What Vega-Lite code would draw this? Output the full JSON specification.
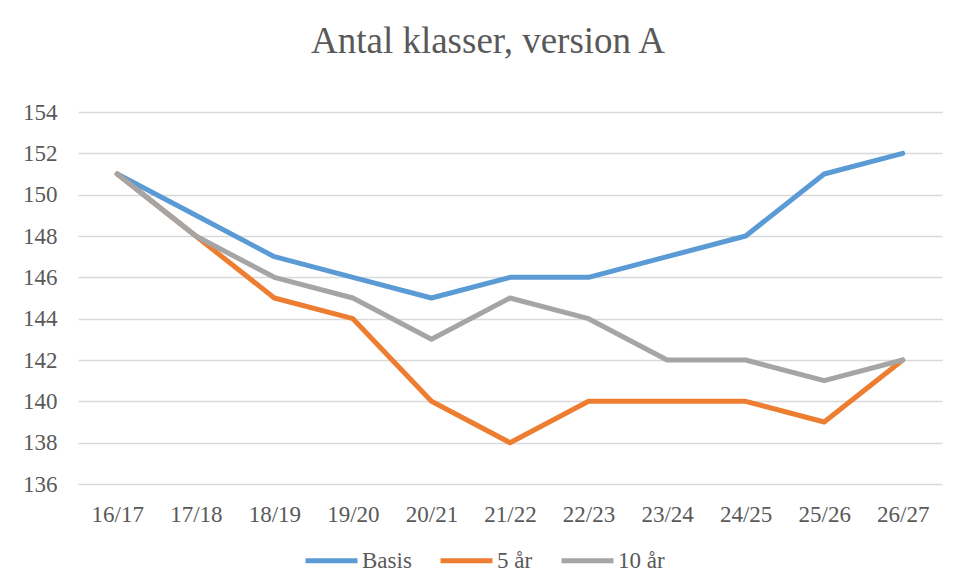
{
  "$schema": "https://vega.github.io/schema/vega-lite/v6.json",
  "width": 864,
  "height": 372,
  "autosize": {"type": "none"},
  "padding": {"left": 78, "top": 112, "right": 13, "bottom": 98},
  "background": "white",
  "title": {
    "text": "Antal klasser, version A",
    "font": "Liberation Serif",
    "fontSize": 37,
    "fontWeight": "normal",
    "color": "#595959",
    "anchor": "middle",
    "dx": -22,
    "offset": 40
  },
  "data": {
    "values": [
      {"year": "16/17", "series": "Basis", "value": 151},
      {"year": "17/18", "series": "Basis", "value": 149},
      {"year": "18/19", "series": "Basis", "value": 147},
      {"year": "19/20", "series": "Basis", "value": 146},
      {"year": "20/21", "series": "Basis", "value": 145},
      {"year": "21/22", "series": "Basis", "value": 146},
      {"year": "22/23", "series": "Basis", "value": 146},
      {"year": "23/24", "series": "Basis", "value": 147},
      {"year": "24/25", "series": "Basis", "value": 148},
      {"year": "25/26", "series": "Basis", "value": 151},
      {"year": "26/27", "series": "Basis", "value": 152},
      {"year": "16/17", "series": "5 år", "value": 151},
      {"year": "17/18", "series": "5 år", "value": 148},
      {"year": "18/19", "series": "5 år", "value": 145},
      {"year": "19/20", "series": "5 år", "value": 144},
      {"year": "20/21", "series": "5 år", "value": 140},
      {"year": "21/22", "series": "5 år", "value": 138},
      {"year": "22/23", "series": "5 år", "value": 140},
      {"year": "23/24", "series": "5 år", "value": 140},
      {"year": "24/25", "series": "5 år", "value": 140},
      {"year": "25/26", "series": "5 år", "value": 139},
      {"year": "26/27", "series": "5 år", "value": 142},
      {"year": "16/17", "series": "10 år", "value": 151},
      {"year": "17/18", "series": "10 år", "value": 148},
      {"year": "18/19", "series": "10 år", "value": 146},
      {"year": "19/20", "series": "10 år", "value": 145},
      {"year": "20/21", "series": "10 år", "value": 143},
      {"year": "21/22", "series": "10 år", "value": 145},
      {"year": "22/23", "series": "10 år", "value": 144},
      {"year": "23/24", "series": "10 år", "value": 142},
      {"year": "24/25", "series": "10 år", "value": 142},
      {"year": "25/26", "series": "10 år", "value": 141},
      {"year": "26/27", "series": "10 år", "value": 142}
    ]
  },
  "mark": {"type": "line", "strokeWidth": 5, "strokeCap": "round", "strokeJoin": "round"},
  "encoding": {
    "x": {
      "field": "year",
      "type": "ordinal",
      "scale": {"type": "point", "padding": 0.5},
      "axis": {
        "title": null,
        "labelAngle": 0,
        "domain": false,
        "ticks": false,
        "labelPadding": 19,
        "labelFont": "Liberation Serif",
        "labelFontSize": 23,
        "labelColor": "#595959"
      }
    },
    "y": {
      "field": "value",
      "type": "quantitative",
      "scale": {"domain": [136, 154], "zero": false, "nice": false},
      "axis": {
        "title": null,
        "values": [136, 138, 140, 142, 144, 146, 148, 150, 152, 154],
        "domain": false,
        "ticks": false,
        "labelPadding": 21,
        "labelFont": "Liberation Serif",
        "labelFontSize": 23,
        "labelColor": "#595959",
        "gridColor": "#D9D9D9",
        "gridWidth": 1.5
      }
    },
    "color": {
      "field": "series",
      "type": "nominal",
      "sort": ["Basis", "5 år", "10 år"],
      "scale": {"domain": ["Basis", "5 år", "10 år"], "range": ["#5B9BD5", "#ED7D31", "#A5A5A5"]},
      "legend": {
        "title": null,
        "orient": "none",
        "direction": "horizontal",
        "legendX": 225,
        "legendY": 420,
        "symbolType": "stroke",
        "symbolSize": 2700,
        "symbolStrokeWidth": 5,
        "labelFont": "Liberation Serif",
        "labelFontSize": 23,
        "labelColor": "#595959",
        "labelOffset": 2,
        "columnPadding": 18
      }
    }
  },
  "config": {"view": {"stroke": null}}
}
